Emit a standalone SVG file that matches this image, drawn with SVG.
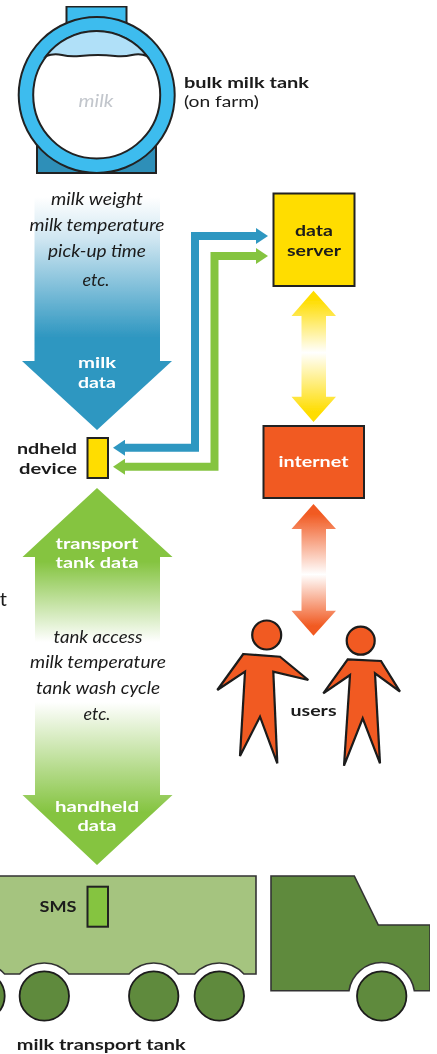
<svg xmlns="http://www.w3.org/2000/svg" width="437" height="1054" viewBox="0 0 437 1054">
<style>
text{font-family:Lato,"Open Sans","Liberation Sans",sans-serif;text-anchor:middle}
.b{font-weight:700;font-size:15.7px;fill:#1a1a1a}
.w{font-weight:700;font-size:15.7px;fill:#fff}
.i{font-style:italic;font-size:17px;fill:#1a1a1a}
.l{stroke:#222;stroke-width:2}
.th{stroke:#333;stroke-width:1.6}
.wheel{fill:#5f8a3c;stroke:#1c1c1c;stroke-width:1.8}
.person{fill:#f15a22;stroke:#1a1a1a;stroke-width:2.2;stroke-linejoin:miter}
</style>
<defs>
<filter id="soft" x="0" y="0" width="1" height="1" filterUnits="objectBoundingBox"><feGaussianBlur stdDeviation="0.45"/></filter>
<linearGradient id="gBlue" gradientUnits="userSpaceOnUse" x1="0" y1="197" x2="0" y2="337"><stop offset="0" stop-color="#fff"/><stop offset="0.3" stop-color="#cfe6f1"/><stop offset="1" stop-color="#2f97c1"/></linearGradient>
<linearGradient id="gGreen" gradientUnits="userSpaceOnUse" x1="0" y1="562" x2="0" y2="812"><stop offset="0" stop-color="#85c441"/><stop offset="0.32" stop-color="#fff"/><stop offset="0.56" stop-color="#fff"/><stop offset="1" stop-color="#85c441"/></linearGradient>
<linearGradient id="gYellow" gradientUnits="userSpaceOnUse" x1="0" y1="300" x2="0" y2="412"><stop offset="0" stop-color="#ffdd00"/><stop offset="0.47" stop-color="#fff"/><stop offset="1" stop-color="#ffdd00"/></linearGradient>
<linearGradient id="gOrange" gradientUnits="userSpaceOnUse" x1="0" y1="514" x2="0" y2="626"><stop offset="0" stop-color="#f15a22"/><stop offset="0.54" stop-color="#fff"/><stop offset="1" stop-color="#f15a22"/></linearGradient>
<marker id="hb" markerUnits="userSpaceOnUse" markerWidth="12" markerHeight="16" viewBox="0 0 12 16" refX="0" refY="8" orient="auto-start-reverse"><path d="M0,0 L12,8 L0,16 Z" fill="#2f97c1"/></marker>
<marker id="hg" markerUnits="userSpaceOnUse" markerWidth="12" markerHeight="16" viewBox="0 0 12 16" refX="0" refY="8" orient="auto-start-reverse"><path d="M0,0 L12,8 L0,16 Z" fill="#85c441"/></marker>
</defs>
<rect width="437" height="1054" fill="#fff"/>
<g filter="url(#soft)">
<g id="connectors" fill="none">
<path d="M125,447.7 H195 V236 H256" stroke="#2f97c1" stroke-width="8" marker-start="url(#hb)" marker-end="url(#hb)"/>
<path d="M125,466.7 H214.5 V256 H256" stroke="#85c441" stroke-width="8" marker-start="url(#hg)" marker-end="url(#hg)"/>
<polygon id="arrow-milk" points="34.5,197 160,197 160,361 172,361 97,430 22,361 34.5,361" fill="url(#gBlue)"/>
<polygon id="arrow-transport" points="97,488 172.5,557 160,557 160,795 172.5,795 97,865 22.5,795 35,795 35,557 22.5,557" fill="url(#gGreen)"/>
<polygon id="arrow-server" points="313.5,290.7 336,316 326,316 326,396.7 336,396.7 313.5,422 291.5,396.7 301.5,396.7 301.5,316 291.5,316" fill="url(#gYellow)"/>
<polygon id="arrow-internet" points="313.5,504 336,529 326,529 326,610.7 336,610.7 313.5,635.7 291.5,610.7 301.5,610.7 301.5,529 291.5,529" fill="url(#gOrange)"/>
<text class="i" x="97" y="205" textLength="92" lengthAdjust="spacingAndGlyphs">milk weight</text>
<text class="i" x="97" y="231" textLength="135" lengthAdjust="spacingAndGlyphs">milk temperature</text>
<text class="i" x="97" y="257" textLength="98" lengthAdjust="spacingAndGlyphs">pick-up time</text>
<text class="i" x="96" y="286" textLength="27" lengthAdjust="spacingAndGlyphs">etc.</text>
<text class="w" x="97" y="368" textLength="38" lengthAdjust="spacingAndGlyphs">milk</text>
<text class="w" x="97" y="388" textLength="38" lengthAdjust="spacingAndGlyphs">data</text>
<text class="w" x="97" y="549" textLength="83" lengthAdjust="spacingAndGlyphs">transport</text>
<text class="w" x="97" y="568" textLength="83" lengthAdjust="spacingAndGlyphs">tank data</text>
<text class="i" x="98" y="643" textLength="89" lengthAdjust="spacingAndGlyphs">tank access</text>
<text class="i" x="98" y="668" textLength="136" lengthAdjust="spacingAndGlyphs">milk temperature</text>
<text class="i" x="98" y="694" textLength="124" lengthAdjust="spacingAndGlyphs">tank wash cycle</text>
<text class="i" x="97" y="720" textLength="27" lengthAdjust="spacingAndGlyphs">etc.</text>
<text class="w" x="97" y="812" textLength="84" lengthAdjust="spacingAndGlyphs">handheld</text>
<text class="w" x="97" y="831" textLength="39" lengthAdjust="spacingAndGlyphs">data</text>
</g>
<g id="bulk-tank">
<rect x="66.5" y="6.5" width="60" height="22" fill="#3dbcee" class="l"/>
<rect x="37" y="140" width="119" height="33" fill="#2f8fb8" class="l"/>
<circle cx="96.7" cy="95" r="78" fill="#3dbcee" class="l"/>
<circle cx="96.7" cy="95" r="63.5" fill="#fff" class="l"/>
<path d="M46,56 A63.5,63.5 0 0 1 147,56 Q140,53 132,55 T115,56 T98,55 T80,56 T62,55 T46,56 Z" fill="#b0e0f8" class="l" stroke-width="1.2"/>
<text x="96" y="107" font-style="italic" font-size="17" fill="#c2c6cc" textLength="35" lengthAdjust="spacingAndGlyphs">milk</text>
<text class="b" x="246.5" y="88" textLength="125" lengthAdjust="spacingAndGlyphs">bulk milk tank</text>
<text x="221.5" y="107" font-size="15.7" fill="#1a1a1a" textLength="75" lengthAdjust="spacingAndGlyphs">(on farm)</text>
</g>
<g id="handheld">
<rect x="87.5" y="438" width="20.5" height="40" fill="#ffdd00" class="l"/>
<text class="b" x="47" y="454" textLength="60" lengthAdjust="spacingAndGlyphs">ndheld</text>
<text class="b" x="48" y="474" textLength="58" lengthAdjust="spacingAndGlyphs">device</text>
</g>
<g id="margin-fragment"><text x="7" y="606" font-size="20" fill="#1a1a1a" style="text-anchor:end">t</text></g>
<g id="data-server">
<rect x="273.5" y="193.5" width="81" height="92.5" fill="#ffdd00" class="l"/>
<text class="b" x="314" y="236" textLength="38" lengthAdjust="spacingAndGlyphs">data</text>
<text class="b" x="314" y="256" textLength="54" lengthAdjust="spacingAndGlyphs">server</text>
</g>
<g id="internet">
<rect x="263.5" y="426" width="100.5" height="72" fill="#f15a22" class="l"/>
<text class="w" x="313.5" y="467" textLength="70" lengthAdjust="spacingAndGlyphs">internet</text>
</g>
<g id="users">
<circle class="person" cx="266.7" cy="635" r="14.5"/>
<polygon class="person" points="243.3,654 280,656.7 308.3,680 273.3,671.7 277.3,763.3 260,716.7 240,756 245,671.7 217.3,690"/>
<circle class="person" cx="360.7" cy="640.7" r="14"/>
<polygon class="person" points="347.7,659.3 381,661 400,691.7 375,673.3 380,763.3 362.7,718.3 344,765.7 350,675 323.3,693.3"/>
<text class="b" x="313.5" y="716" textLength="46" lengthAdjust="spacingAndGlyphs">users</text>
</g>
<g id="transport-tank">
<path d="M-50,876 H256 V974 H243.9 A33,33 0 0 0 194.7,974 H178.3 A33,33 0 0 0 129.1,974 H68.9 A33,33 0 0 0 19.7,974 H4.6 A33,33 0 0 0 -44.6,974 Z" fill="#a5c47f" class="th"/>
<rect x="87.5" y="886.7" width="20.5" height="40" fill="#85c441" class="l"/>
<text class="b" x="58" y="912" textLength="37" lengthAdjust="spacingAndGlyphs">SMS</text>
<circle class="wheel" cx="-20" cy="996" r="24.7"/>
<circle class="wheel" cx="44.3" cy="996" r="24.7"/>
<circle class="wheel" cx="153.7" cy="996" r="24.7"/>
<circle class="wheel" cx="219.3" cy="996" r="24.7"/>
<text class="b" x="101.2" y="1050" textLength="169" lengthAdjust="spacingAndGlyphs">milk transport tank</text>
</g>
<g id="truck-cab">
<path d="M271,876 H354.3 L378.3,925 H430 V990.7 H414.3 A33,33 0 0 0 349,990.7 H271 Z" fill="#5f8a3c" class="th"/>
<circle class="wheel" cx="381.7" cy="996" r="24.7"/>
</g>
</g>
</svg>
